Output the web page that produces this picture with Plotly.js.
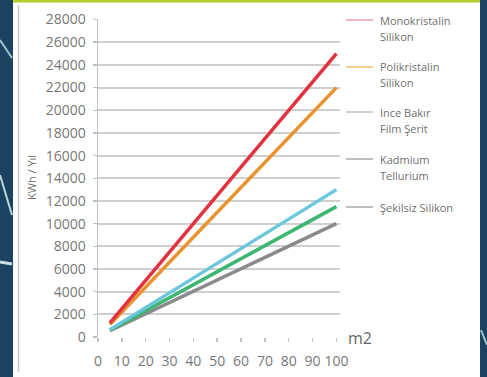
<!DOCTYPE html>
<html>
<head>
<meta charset="utf-8">
<script src="https://cdn.plot.ly/plotly-3.0.1.min.js"></script>
<style>html,body{margin:0;padding:0;background:#1b4260;}#chart{width:487px;height:377px;}</style>
</head>
<body>
<div id="chart"></div>
<script>
// ---- data ----
var areaM2 = [5, 100];
var monokristalin = [1250, 25000];
var polikristalin = [1100, 22000];
var inceFilm = [650, 13000];
var kadmium = [600, 11500];
var sekilsiz = [550, 10000];
var seriesNames = ["Monokristalin<br>Silikon", "Polikristalin<br>Silikon", "Ince Bakır<br>Film Şerit", "Kadmium<br>Tellurium", "Şekilsiz Silikon"];
var xTicks = [0, 10, 20, 30, 40, 50, 60, 70, 80, 90, 100];
var yTicks = [0, 2000, 4000, 6000, 8000, 10000, 12000, 14000, 16000, 18000, 20000, 22000, 24000, 26000, 28000];
var yTitle = "KWh / Yıl";
var xUnit = "m2";

// ---- styling ----
var lineColors = ["#e2323f", "#ea922e", "#6cc6dc", "#3cb671", "#8a8a8a"];
var legendColors = ["#eaa0b0", "#efbf70", "#b8c4cc", "#a8a8a8", "#a8a8a8"];
var seriesValues = [monokristalin, polikristalin, inceFilm, kadmium, sekilsiz];

// plot area in pixels
var L = 98, R = 340, T = 19, B = 337;
function fx(px) { return (px - L) / (R - L); }
function fy(py) { return (B - py) / (B - T); }

var traces = seriesValues.map(function (vals, i) {
  return {
    x: areaM2, y: vals, type: "scatter", mode: "lines",
    name: seriesNames[i].replace("<br>", " "),
    line: { color: lineColors[i], width: 3.5 },
    showlegend: false, hoverinfo: "skip"
  };
});
// draw grey first so red lies on top
traces.reverse();

var shapes = [
  // white panel
  { type: "rect", xref: "paper", yref: "paper", x0: fx(13), x1: fx(480), y0: fy(390), y1: fy(2), fillcolor: "#ffffff", line: { width: 0 }, layer: "below" },
  // top yellow-green band
  { type: "rect", xref: "paper", yref: "paper", x0: fx(13), x1: fx(480), y0: fy(2.5), y1: fy(-1), fillcolor: "#b6cb2c", line: { width: 0 }, layer: "below" },
  // left inner border
  { type: "line", xref: "paper", yref: "paper", x0: fx(18.5), x1: fx(18.5), y0: fy(372), y1: fy(5), line: { color: "#c8c8c8", width: 1.5 }, layer: "below" },
  // decorative streaks on the background strips
  { type: "line", xref: "paper", yref: "paper", x0: fx(0), x1: fx(12), y0: fy(40), y1: fy(58), line: { color: "#9fc6cf", width: 2 }, layer: "below" },
  { type: "line", xref: "paper", yref: "paper", x0: fx(0), x1: fx(12), y0: fy(175), y1: fy(215), line: { color: "#b7d6da", width: 2 }, layer: "below" },
  { type: "line", xref: "paper", yref: "paper", x0: fx(0), x1: fx(12), y0: fy(262), y1: fy(264), line: { color: "#c9e0e0", width: 3 }, layer: "below" },
  { type: "line", xref: "paper", yref: "paper", x0: fx(481), x1: fx(487), y0: fy(330), y1: fy(345), line: { color: "#9fc6cf", width: 2 }, layer: "below" }
];

var annotations = [];
var legendY = [20, 67, 112, 159, 207];
seriesNames.forEach(function (nm, i) {
  shapes.push({ type: "line", xref: "paper", yref: "paper", x0: fx(346), x1: fx(373), y0: fy(legendY[i]), y1: fy(legendY[i]), line: { color: legendColors[i], width: 1.5 } });
  nm.split("<br>").forEach(function (part, j) {
    annotations.push({ xref: "paper", yref: "paper", x: fx(378), y: fy(legendY[i] + j * 16), text: part, showarrow: false, xanchor: "left", yanchor: "middle", font: { family: "Open Sans", size: 11, color: "#707070" } });
  });
});
annotations.push({ xref: "paper", yref: "paper", x: fx(31), y: fy(178), text: yTitle, textangle: -90, showarrow: false, xanchor: "center", yanchor: "middle", font: { family: "Open Sans", size: 11, color: "#707070" } });
annotations.push({ xref: "paper", yref: "paper", x: fx(360), y: fy(338), text: xUnit, showarrow: false, xanchor: "center", yanchor: "middle", font: { family: "Open Sans", size: 16, color: "#666" } });

var layout = {
  width: 487, height: 377,
  margin: { l: L, r: 487 - R, t: T, b: 377 - B, pad: 0 },
  paper_bgcolor: "#1b4260",
  plot_bgcolor: "rgba(0,0,0,0)",
  font: { family: "Open Sans", size: 14, color: "#777" },
  showlegend: false,
  xaxis: {
    range: [0, 101.5], tickvals: xTicks, ticktext: xTicks.map(String),
    showgrid: false, zeroline: false, showline: false,
    ticks: "outside", ticklen: 4, tickcolor: "#c0c0c0", tickwidth: 1.5,
    ticklabelstandoff: 7,
    tickfont: { family: "Open Sans", size: 14, color: "#777" }
  },
  yaxis: {
    range: [0, 28050], tickvals: yTicks, ticktext: yTicks.map(String),
    showgrid: true, gridcolor: "#cfcfcf", gridwidth: 2,
    zeroline: false, showline: true, linecolor: "#c0c0c0", linewidth: 1.5,
    ticks: "outside", ticklen: 4, tickcolor: "#c0c0c0", tickwidth: 1.5,
    ticklabelstandoff: 4,
    tickfont: { family: "Open Sans", size: 14, color: "#777" }
  },
  shapes: shapes,
  annotations: annotations
};

Plotly.newPlot("chart", traces, layout, { displayModeBar: false, staticPlot: true });
</script>
</body>
</html>
